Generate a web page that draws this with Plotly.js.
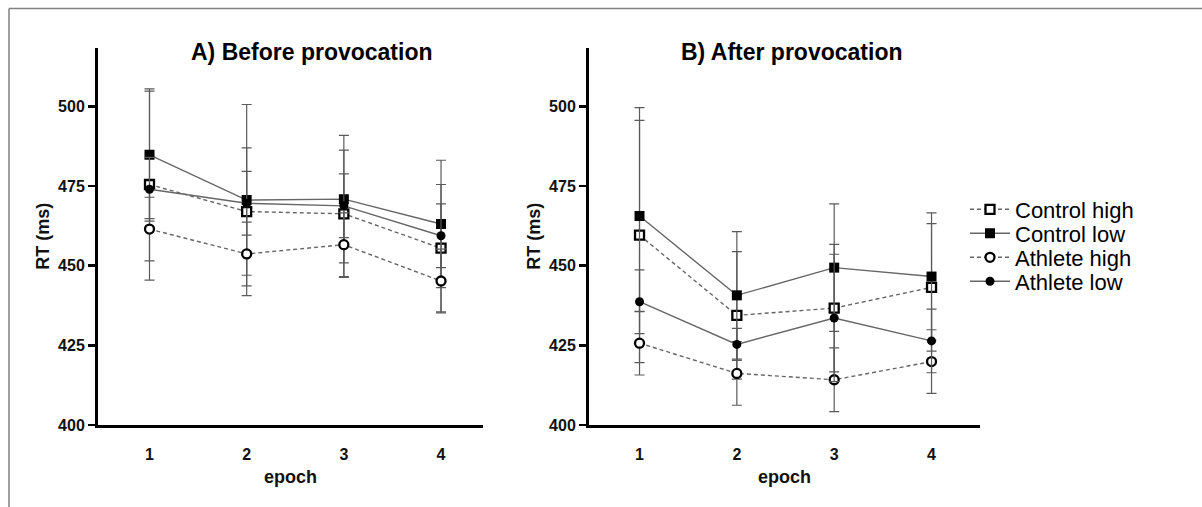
<!DOCTYPE html>
<html>
<head>
<meta charset="utf-8">
<script src="https://cdn.plot.ly/plotly-3.0.1.min.js"></script>
<style>
  html, body { margin: 0; padding: 0; background: #fff; }
  #chart { width: 1202px; height: 507px; }
</style>
</head>
<body>
<div id="chart"></div>
<script>
// ---- data ----
const epochs = [1, 2, 3, 4];
const epochTickLabels = ['1', '2', '3', '4'];
const rtTickVals = [400, 425, 450, 475, 500];

const seriesNames = ['Control high', 'Control low', 'Athlete high', 'Athlete low'];

// A) Before provocation
const beforeControlHigh = [475.5, 467.0, 466.3, 455.5];
const beforeControlHighErr = [30, 20, 20, 20];
const beforeControlLow = [484.8, 470.6, 470.9, 463.1];
const beforeControlLowErr = [20, 30, 20, 20];
const beforeAthleteHigh = [461.5, 453.7, 456.6, 445.2];
const beforeAthleteHighErr = [10, 10, 10, 10];
const beforeAthleteLow = [474.0, 469.6, 468.8, 459.4];
const beforeAthleteLowErr = [10, 10, 10, 10];

// B) After provocation
const afterControlHigh = [459.6, 434.4, 436.7, 443.2];
const afterControlHighErr = [40, 20, 20, 20];
const afterControlLow = [465.6, 440.7, 449.4, 446.6];
const afterControlLowErr = [30, 20, 20, 20];
const afterAthleteHigh = [425.7, 416.2, 414.2, 419.9];
const afterAthleteHighErr = [10, 10, 10, 10];
const afterAthleteLow = [438.7, 425.3, 433.6, 426.4];
const afterAthleteLowErr = [10, 5, 20, 10];

// ---- styles ----
const FONT = 'Liberation Sans, Arial, sans-serif';
const LINE_COLOR = '#666666';
const ERR_COLOR = '#5a5a5a';

const styles = [
  { dash: '4px,3px', marker: { symbol: 'square', size: 9, color: '#ffffff', line: { color: '#000', width: 2.3 } } },
  { dash: 'solid',   marker: { symbol: 'square', size: 10, color: '#000000', line: { color: '#000', width: 0 } } },
  { dash: '4px,3px', marker: { symbol: 'circle', size: 9, color: '#ffffff', line: { color: '#000', width: 2.3 } } },
  { dash: 'solid',   marker: { symbol: 'circle', size: 9, color: '#000000', line: { color: '#000', width: 0 } } }
];

function makeTrace(y, err, idx, xa, ya, legendName) {
  const s = styles[idx];
  const t = {
    type: 'scatter',
    mode: 'lines+markers',
    x: epochs,
    y: y,
    xaxis: xa,
    yaxis: ya,
    name: seriesNames[idx],
    line: { color: LINE_COLOR, width: 1.4, dash: s.dash },
    marker: s.marker,
    error_y: { type: 'data', array: err, visible: true, color: ERR_COLOR, thickness: 1.2, width: 5 },
    showlegend: !!legendName,
    hoverinfo: 'skip'
  };
  if (legendName) t.legend = legendName;
  return t;
}

const legendNames = ['legend', 'legend2', 'legend3', 'legend4'];

const data = [
  makeTrace(beforeControlHigh, beforeControlHighErr, 0, 'x', 'y', null),
  makeTrace(beforeControlLow, beforeControlLowErr, 1, 'x', 'y', null),
  makeTrace(beforeAthleteHigh, beforeAthleteHighErr, 2, 'x', 'y', null),
  makeTrace(beforeAthleteLow, beforeAthleteLowErr, 3, 'x', 'y', null),
  makeTrace(afterControlHigh, afterControlHighErr, 0, 'x2', 'y2', legendNames[0]),
  makeTrace(afterControlLow, afterControlLowErr, 1, 'x2', 'y2', legendNames[1]),
  makeTrace(afterAthleteHigh, afterAthleteHighErr, 2, 'x2', 'y2', legendNames[2]),
  makeTrace(afterAthleteLow, afterAthleteLowErr, 3, 'x2', 'y2', legendNames[3])
];

const W = 1202, H = 507;
const px = v => v / W;
const py = v => 1 - v / H;

function xAxis(domain, range) {
  return {
    domain: domain,
    range: range,
    tickvals: epochs,
    ticktext: epochTickLabels,
    ticks: '',
    ticklabelstandoff: 13,
    showline: true,
    linecolor: '#000',
    linewidth: 3,
    showgrid: false,
    zeroline: false,
    tickfont: { family: FONT, size: 16, color: '#111', weight: 700 },
    title: { text: 'epoch', font: { family: FONT, size: 18, color: '#111', weight: 700 }, standoff: 9 },
    fixedrange: true
  };
}

function yAxis(domain, anchor) {
  return {
    domain: domain,
    anchor: anchor,
    range: [400, 518.5],
    tickvals: rtTickVals,
    ticks: 'outside',
    ticklen: 7,
    tickwidth: 2.5,
    tickcolor: '#000',
    showline: true,
    linecolor: '#000',
    linewidth: 3,
    showgrid: false,
    zeroline: false,
    tickfont: { family: FONT, size: 16, color: '#111', weight: 700 },
    title: { text: 'RT (ms)', font: { family: FONT, size: 18, color: '#111', weight: 700 }, standoff: 4 },
    fixedrange: true
  };
}

const yDom = [py(425), py(47.5)];

const layout = {
  width: W,
  height: H,
  margin: { l: 0, r: 0, t: 0, b: 0 },
  paper_bgcolor: '#ffffff',
  plot_bgcolor: 'rgba(0,0,0,0)',
  font: { family: FONT, color: '#000' },
  xaxis: Object.assign(xAxis([px(98), px(483)], [0.47, 4.432]), { anchor: 'y' }),
  yaxis: yAxis(yDom, 'x'),
  xaxis2: Object.assign(xAxis([px(589), px(980)], [0.481, 4.498]), { anchor: 'y2' }),
  yaxis2: yAxis(yDom, 'x2'),
  annotations: [
    { text: 'A) Before provocation', xref: 'paper', yref: 'paper', x: px(312), y: py(52),
      xanchor: 'center', yanchor: 'middle', showarrow: false,
      font: { family: FONT, size: 23, color: '#000', weight: 700 } },
    { text: 'B) After provocation', xref: 'paper', yref: 'paper', x: px(792), y: py(52),
      xanchor: 'center', yanchor: 'middle', showarrow: false,
      font: { family: FONT, size: 23, color: '#000', weight: 700 } }
  ],
  shapes: [
    { type: 'line', xref: 'paper', yref: 'paper', x0: px(9), x1: 1, y0: py(8.5), y1: py(8.5),
      line: { color: '#808080', width: 1.5 } },
    { type: 'line', xref: 'paper', yref: 'paper', x0: px(9), x1: px(9), y0: py(8.5), y1: 0,
      line: { color: '#808080', width: 1.5 } }
  ]
};

const legendCenters = [209.5, 233.5, 257.5, 281.5];
legendNames.forEach((ln, i) => {
  layout[ln] = {
    x: px(965), xanchor: 'left',
    y: py(legendCenters[i]), yanchor: 'middle',
    bgcolor: 'rgba(0,0,0,0)', borderwidth: 0,
    itemwidth: 40,
    itemclick: false, itemdoubleclick: false,
    font: { family: FONT, size: 22, color: '#000' }
  };
});

Plotly.newPlot('chart', data, layout, { displayModeBar: false, staticPlot: true });
</script>
</body>
</html>
